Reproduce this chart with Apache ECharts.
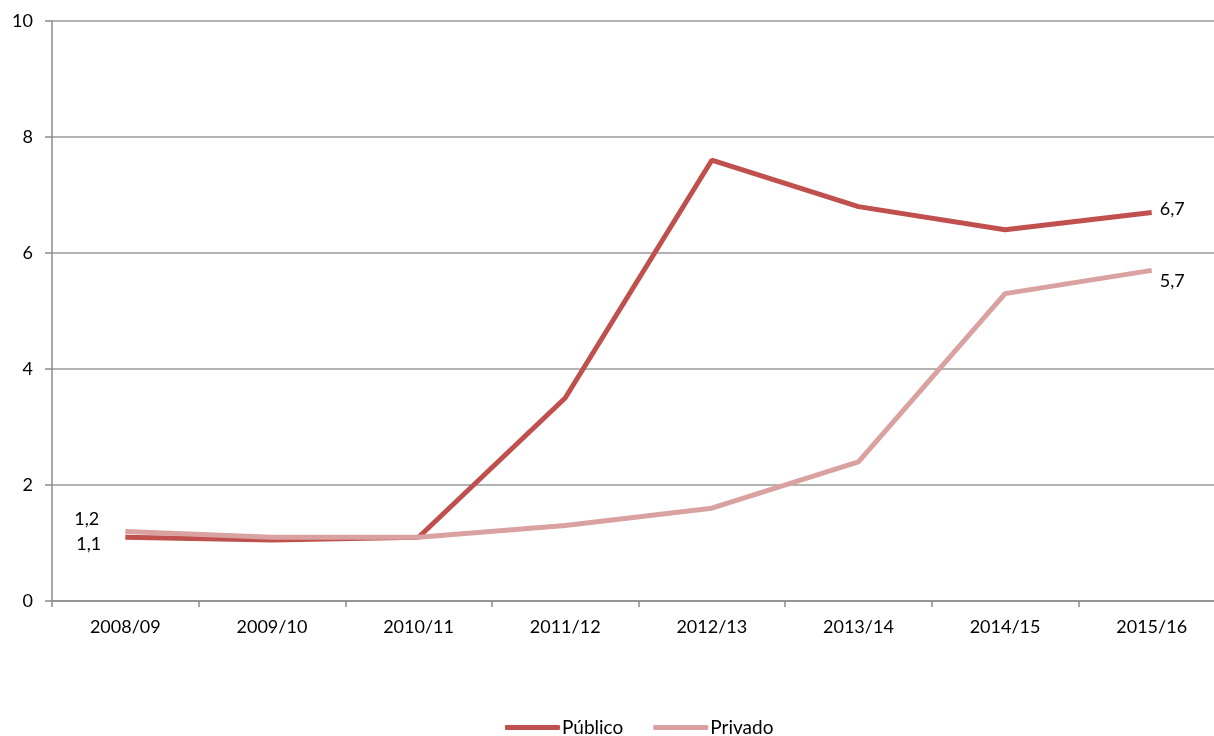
<!DOCTYPE html>
<html>
<head>
<meta charset="utf-8">
<script src="https://cdn.jsdelivr.net/npm/echarts@6/dist/echarts.min.js"></script>
<style>html,body{margin:0;padding:0;background:#fff;overflow:hidden}#c{width:1226px;height:736px}</style>
</head>
<body>
<div id="c"></div>
<script>
const categories = ['2008/09','2009/10','2010/11','2011/12','2012/13','2013/14','2014/15','2015/16'];
const publico = [1.1, 1.05, 1.1, 3.5, 7.6, 6.8, 6.4, 6.7];
const privado = [1.2, 1.1, 1.1, 1.3, 1.6, 2.4, 5.3, 5.7];
const yTicks = [0, 2, 4, 6, 8, 10];

const FONT = 'Lato';
const fmt = v => String(v).replace('.', ',');

function withLabels(arr, firstOffset, lastOffset) {
  return arr.map((v, i) => {
    if (i === 0) return {value: v, label: {show: true, position: 'left', distance: 26, offset: firstOffset}};
    if (i === arr.length - 1) return {value: v, label: {show: true, position: 'right', distance: 8, offset: lastOffset}};
    return v;
  });
}

const chart = echarts.init(document.getElementById('c'));
chart.setOption({
  animation: false,
  textStyle: {fontFamily: FONT},
  grid: {left: 52, right: 1, top: 21, bottom: 135, containLabel: false},
  legend: {
    top: 713, left: 500,
    itemWidth: 55, itemHeight: 5, itemGap: 30,
    icon: 'roundRect',
    textStyle: {fontFamily: FONT, fontSize: 19, color: '#000', padding: [0, 0, 0, -3]},
    data: ['Público', 'Privado']
  },
  xAxis: {
    type: 'category', data: categories, boundaryGap: true,
    axisLine: {lineStyle: {color: '#8c8c8c', width: 1.5}},
    axisTick: {show: true, length: 6, lineStyle: {color: '#8c8c8c', width: 1.5}},
    axisLabel: {fontFamily: FONT, fontSize: 18, color: '#000', margin: 17}
  },
  yAxis: {
    type: 'value', min: yTicks[0], max: yTicks[yTicks.length - 1], interval: 2,
    axisLine: {show: true, lineStyle: {color: '#8c8c8c', width: 1.5}},
    axisTick: {show: true, length: 7, lineStyle: {color: '#8c8c8c', width: 1.5}},
    axisLabel: {fontFamily: FONT, fontSize: 18, color: '#000', margin: 19},
    splitLine: {lineStyle: {color: '#9a9a9a', width: 1.5}}
  },
  series: [
    {
      name: 'Público', type: 'line', symbol: 'circle', symbolSize: 0.01, showSymbol: true,
      data: withLabels(publico, [2, 7], [0, -3]),
      lineStyle: {color: '#C0504D', width: 5},
      itemStyle: {color: '#C0504D'},
      label: {show: false, fontFamily: FONT, fontSize: 18, color: '#000', formatter: p => fmt(p.value)},
      z: 2
    },
    {
      name: 'Privado', type: 'line', symbol: 'circle', symbolSize: 0.01, showSymbol: true,
      data: withLabels(privado, [0, -12], [0, 11]),
      lineStyle: {color: '#D9A19F', width: 5},
      itemStyle: {color: '#D9A19F'},
      label: {show: false, fontFamily: FONT, fontSize: 18, color: '#000', formatter: p => fmt(p.value)},
      z: 3
    }
  ]
});
</script>
</body>
</html>
